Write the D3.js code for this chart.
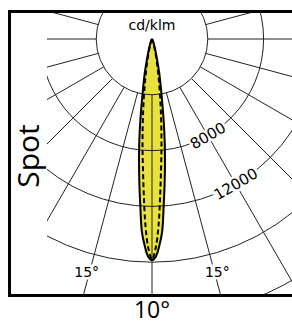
<!DOCTYPE html>
<html>
<head>
<meta charset="utf-8">
<script src="https://cdn.jsdelivr.net/npm/d3@7"></script>
<style>
  body { margin: 0; background: #fff; }
</style>
</head>
<body>
<svg id="plot"></svg>
<script>
// Polar luminous intensity, angle in degrees from the beam axis
const angles = [0, 1, 2, 3, 4, 5, 6, 7, 8, 9, 10, 12, 14, 16, 20, 25, 30, 40];
const c0Values = [15850, 15600, 14850, 13850, 12000, 10400, 8900, 7500, 6100, 4800, 3800, 2500, 1500, 900, 400, 150, 50, 0];
const c90Values = [15800, 15000, 13400, 11200, 9300, 7800, 6400, 5200, 4200, 3300, 2600, 1600, 1000, 600, 250, 100, 30, 0];

const rings = [4000, 8000, 12000, 16000, 20000];
const ringLabels = [8000, 12000];
const spokes = d3.range(0, 360, 15);
const angleLabels = [-15, 15];

const width = 292, height = 325;
const cx = 152, cy = 39;

const svg = d3.select('#plot')
    .attr("width", width)
    .attr("height", height)
    .style('background', '#FFFFFF');

// radius scale: 4000 cd/klm per ring
const r = d3.scaleLinear().domain([0, 4000]).range([0, 55.8]);

// clip for the polar area
svg.append("clipPath").attr("id", "area")
  .append("rect")
    .attr("x", 47).attr("y", 13)
    .attr("width", width - 47).attr("height", 294 - 13);

const g = svg.append("g")
    .attr("clip-path", "url(#area)")
  .append("g")
    .attr("transform", "translate(" + cx + "," + cy + ")");

// angle from downward axis -> lineRadial angle
const toRad = a => Math.PI - a * Math.PI / 180;

function shape(values) {
  const pts = [];
  for (let i = angles.length - 1; i > 0; i--) pts.push([-angles[i], values[i]]);
  for (let i = 0; i < angles.length; i++) pts.push([angles[i], values[i]]);
  return pts;
}

const radial = d3.lineRadial()
    .angle(d => toRad(d[0]))
    .radius(d => r(d[1]))
    .curve(d3.curveCatmullRom);

// yellow fill
g.append("path")
    .attr("d", radial(shape(c0Values)))
    .attr("fill", "#e8e23e");

// grid: spokes start at first ring
g.selectAll(".spoke")
  .data(spokes)
  .enter().append("line")
    .attr("x1", d => r(rings[0]) * Math.sin(d * Math.PI / 180))
    .attr("y1", d => r(rings[0]) * Math.cos(d * Math.PI / 180))
    .attr("x2", d => 420 * Math.sin(d * Math.PI / 180))
    .attr("y2", d => 420 * Math.cos(d * Math.PI / 180))
    .attr("stroke", "#222")
    .attr("stroke-width", 1);

g.selectAll(".ring")
  .data(rings)
  .enter().append("circle")
    .attr("r", d => r(d))
    .attr("fill", "none")
    .attr("stroke", "#222")
    .attr("stroke-width", 1);

// outlines
g.append("path")
    .attr("d", radial(shape(c0Values)))
    .attr("fill", "none")
    .attr("stroke", "#000")
    .attr("stroke-width", 2);

g.append("path")
    .attr("d", radial(shape(c90Values)))
    .attr("fill", "none")
    .attr("stroke", "#000")
    .attr("stroke-width", 2)
    .attr("stroke-dasharray", "5,3");

// ring labels along the 30 degree spoke
g.selectAll(".ringlabel")
  .data(ringLabels)
  .enter().append("text")
    .attr("transform", d => {
      const a = 30 * Math.PI / 180;
      return "translate(" + (r(d) * Math.sin(a)) + "," + (r(d) * Math.cos(a)) + ") rotate(-30)";
    })
    .attr("dy", "0.35em")
    .attr("text-anchor", "middle")
    .style("font-family", "DejaVu Sans")
    .style("font-size", "15px")
    .style("paint-order", "stroke")
    .style("stroke", "#fff")
    .style("stroke-width", 5)
    .text(d => d);

// angle labels
g.selectAll(".anglabel")
  .data(angleLabels)
  .enter().append("text")
    .attr("x", d => 241 * Math.sin(d * Math.PI / 180) + (d < 0 ? -3 : 3))
    .attr("y", d => 241 * Math.cos(d * Math.PI / 180))
    .attr("dy", "0.35em")
    .attr("text-anchor", "middle")
    .style("font-family", "DejaVu Sans")
    .style("font-size", "14px")
    .style("paint-order", "stroke")
    .style("stroke", "#fff")
    .style("stroke-width", 5)
    .text(d => Math.abs(d) + "°");

// unit label
svg.append("text")
    .attr("x", cx)
    .attr("y", 30)
    .attr("text-anchor", "middle")
    .style("font-family", "DejaVu Sans")
    .style("font-size", "14px")
    .text("cd/klm");

// frame
svg.append("rect")
    .attr("x", 9.5).attr("y", 11.5)
    .attr("width", 300).attr("height", 284)
    .attr("fill", "none")
    .attr("stroke", "#000")
    .attr("stroke-width", 3);

// side and bottom titles
svg.append("text")
    .attr("transform", "translate(39,156) rotate(-90)")
    .attr("text-anchor", "middle")
    .style("font-family", "Open Sans")
    .style("font-size", "30px")
    .text("Spot");

svg.append("text")
    .attr("x", cx)
    .attr("y", 318)
    .attr("text-anchor", "middle")
    .style("font-family", "Open Sans")
    .style("font-size", "23px")
    .text("10°");
</script>
</body>
</html>
